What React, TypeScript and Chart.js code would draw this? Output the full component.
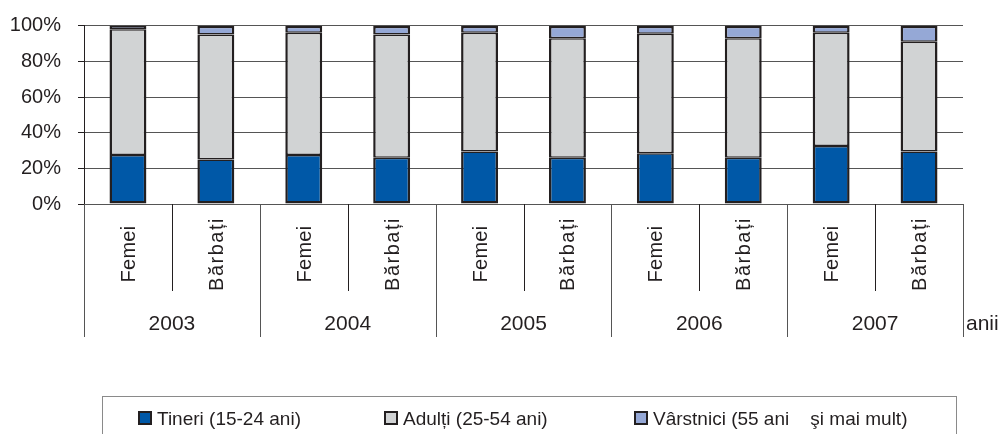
import React, { useEffect, useRef } from "react";
import { Chart, registerables } from "chart.js";

Chart.register(...registerables);

const categories = ["Femei", "Bărbați", "Femei", "Bărbați", "Femei", "Bărbați", "Femei", "Bărbați", "Femei", "Bărbați"];
const years = ["2003", "2004", "2005", "2006", "2007"];
const tineri = [27.5, 25, 27.5, 26, 29.5, 26, 28.5, 26, 32.5, 29.5];
const adulti = [70.5, 70, 68.5, 69, 66.5, 67, 67, 67, 63.5, 61.5];
const varstnici = [2, 5, 4, 5, 4, 7, 4.5, 7, 4, 9];
const yTicks = [0, 20, 40, 60, 80, 100];
const seriesLabels = ["Tineri (15-24 ani)", "Adulți (25-54 ani)", "Vârstnici (55 ani    şi mai mult)"];
const axisTitle = "anii";

const FONT = "'Liberation Sans', Arial, sans-serif";
const INK = "#231f20";

const overlayPlugin = {
  id: "overlay",
  afterDraw(chart: any) {
    const ctx = chart.ctx as CanvasRenderingContext2D;
    const area = chart.chartArea;
    const xs = chart.scales.x;
    const n = categories.length;
    const step = (area.right - area.left) / n;
    ctx.save();
    for (let i = 0; i <= n; i++) {
      const px = Math.round(area.left + i * step) + 0.5;
      const isYear = i % 2 === 0;
      ctx.beginPath();
      ctx.strokeStyle = isYear ? "#555" : INK;
      ctx.lineWidth = 1;
      ctx.moveTo(px, area.bottom);
      ctx.lineTo(px, isYear ? 337 : 291);
      ctx.stroke();
    }
    ctx.fillStyle = INK;
    ctx.font = `20px ${FONT}`;
    categories.forEach((lab, i) => {
      const cx = xs.getPixelForValue(i);
      ctx.save();
      (ctx as any).letterSpacing = lab === "Femei" ? "0.3px" : "1.5px";
      ctx.translate(cx + 7, 254);
      ctx.rotate(-Math.PI / 2);
      ctx.textAlign = "center";
      ctx.textBaseline = "alphabetic";
      ctx.fillText(lab, 0, 0);
      ctx.restore();
    });
    ctx.font = `21px ${FONT}`;
    ctx.textAlign = "center";
    ctx.textBaseline = "alphabetic";
    years.forEach((y, g) => {
      const cx = (xs.getPixelForValue(2 * g) + xs.getPixelForValue(2 * g + 1)) / 2;
      ctx.fillText(y, cx, 329.5);
    });
    ctx.textAlign = "left";
    ctx.fillText(axisTitle, 966, 329.5);
    ctx.strokeStyle = "#8a8a8a";
    ctx.lineWidth = 1;
    ctx.strokeRect(102.5, 396.5, 854, 60);
    const itemX = [138, 384, 634];
    ctx.font = `19px ${FONT}`;
    chart.data.datasets.forEach((ds: any, i: number) => {
      const bx = itemX[i];
      ctx.fillStyle = INK;
      ctx.fillRect(bx, 411, 14, 14);
      ctx.fillStyle = ds.backgroundColor;
      ctx.fillRect(bx + 2, 413, 10, 10);
      ctx.fillStyle = INK;
      ctx.fillText(ds.label, bx + 19, 424.5);
    });
    ctx.restore();
  },
};

export default function App() {
  const ref = useRef<HTMLCanvasElement>(null);
  useEffect(() => {
    if (!ref.current) return;
    const common = { borderColor: INK, borderSkipped: false, inflateAmount: 0 };
    const chart = new Chart(ref.current, {
      type: "bar",
      data: {
        labels: categories,
        datasets: [
          { ...common, label: seriesLabels[0], data: tineri, backgroundColor: "#0058a7",
            borderWidth: { top: 1.5, bottom: 2.5, left: 2.5, right: 2.5 } as any },
          { ...common, label: seriesLabels[1], data: adulti, backgroundColor: "#d1d3d4",
            borderWidth: { top: 1.5, bottom: 1.5, left: 2.5, right: 2.5 } as any },
          { ...common, label: seriesLabels[2], data: varstnici, backgroundColor: "#95a8d6",
            borderWidth: { top: 2.5, bottom: 1.5, left: 2.5, right: 2.5 } as any },
        ] as any,
      },
      options: {
        responsive: false,
        animation: false,
        layout: { padding: { left: 0, top: 25.7, right: 40, bottom: 0 } },
        datasets: { bar: { barPercentage: 0.42, categoryPercentage: 1 } },
        plugins: { legend: { display: false }, tooltip: { enabled: false } },
        scales: {
          x: {
            stacked: true,
            grid: { display: false },
            border: { display: false },
            ticks: { display: false },
            afterFit: (s: any) => { s.height = 230; },
          },
          y: {
            stacked: true,
            min: 0,
            max: 100,
            afterBuildTicks: (s: any) => { s.ticks = yTicks.map((v) => ({ value: v })); },
            grid: { color: "#555", lineWidth: 1, tickLength: 6, tickColor: INK },
            border: { display: true, color: INK, width: 1 },
            ticks: {
              padding: 17,
              color: INK,
              font: { family: FONT, size: 20 },
              callback: (v: any) => v + "%",
            },
            afterFit: (s: any) => {
              s.width = 84;
              s.paddingTop = 0;
              s.paddingBottom = 0;
            },
          },
        },
      },
      plugins: [overlayPlugin],
    });
    return () => chart.destroy();
  }, []);
  return (
    <div style={{ position: "absolute", left: 0, top: 0, width: 1003, height: 434, background: "#fff" }}>
      <canvas ref={ref} width={1003} height={434} />
    </div>
  );
}
